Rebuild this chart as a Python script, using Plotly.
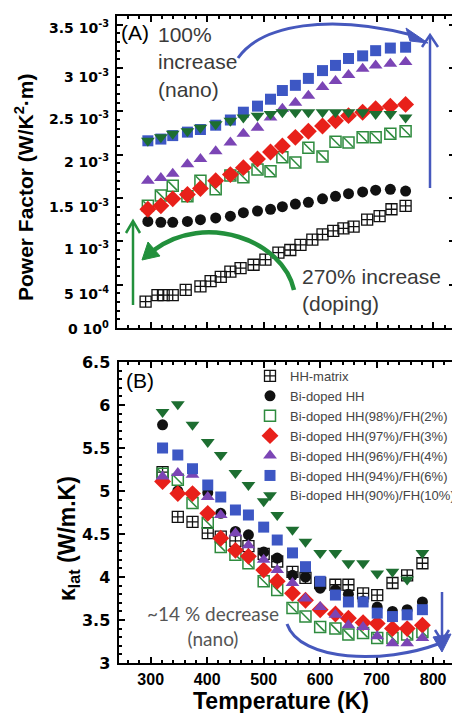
import plotly.graph_objects as go

# the page body has an 8 px margin, so the figure is laid out in
# reference-pixel coordinates shifted by (8, 8)
OX, OY = 8, 8
W, H = 452, 705

# ---------------- data ----------------
series_names = ["HH-matrix", "Bi-doped HH", "Bi-doped HH(98%)/FH(2%)",
                "Bi-doped HH(97%)/FH(3%)", "Bi-doped HH(96%)/FH(4%)",
                "Bi-doped HH(94%)/FH(6%)", "Bi-doped HH(90%)/FH(10%)"]

# Panel A: power factor, in units of 1e-3 W/K^2.m
temp_a_hh = [291, 312, 323, 339, 362, 388, 406, 424, 441, 459, 482, 503, 526, 547,
             565, 586, 604, 623, 641, 659, 683, 705, 726, 751]
pf_hh = [0.305, 0.38, 0.38, 0.38, 0.44, 0.48, 0.54, 0.59, 0.65, 0.69, 0.73, 0.79,
         0.87, 0.90, 0.96, 1.02, 1.08, 1.12, 1.15, 1.17, 1.25, 1.29, 1.37, 1.41]
temp_a = [295, 318, 339, 365, 388, 415, 441, 464, 489, 512, 533, 556, 579, 604,
          627, 650, 675, 698, 724, 751]
pf_bi = [1.23, 1.22, 1.22, 1.23, 1.25, 1.27, 1.29, 1.33, 1.35, 1.37, 1.40, 1.43,
         1.45, 1.49, 1.52, 1.55, 1.57, 1.59, 1.60, 1.58]
pf_98 = [1.41, 1.53, 1.64, 1.52, 1.70, 1.60, 1.76, 1.74, 1.83, 1.81, 1.97, 1.91,
         2.08, 1.98, 2.15, 2.14, 2.20, 2.20, 2.24, 2.27]
pf_97 = [1.37, 1.41, 1.49, 1.54, 1.61, 1.70, 1.77, 1.85, 1.95, 2.03, 2.10, 2.20,
         2.27, 2.33, 2.39, 2.45, 2.49, 2.53, 2.56, 2.58]
pf_96 = [1.70, 1.73, 1.78, 1.89, 1.95, 2.04, 2.14, 2.24, 2.31, 2.43, 2.53, 2.60,
         2.68, 2.78, 2.85, 2.92, 2.99, 3.03, 3.05, 3.07]
pf_94 = [2.16, 2.18, 2.22, 2.26, 2.29, 2.34, 2.40, 2.49, 2.56, 2.64, 2.74, 2.80,
         2.88, 2.97, 3.03, 3.11, 3.14, 3.20, 3.23, 3.24]
pf_90 = [2.16, 2.20, 2.24, 2.27, 2.31, 2.35, 2.39, 2.43, 2.45, 2.47, 2.49, 2.49,
         2.49, 2.49, 2.49, 2.49, 2.49, 2.47, 2.47, 2.43]
pf_ticks = [0, 0.5, 1.0, 1.5, 2.0, 2.5, 3.0, 3.5]
pf_ticktext = ["0 10<sup>0</sup>", "5 10<sup>-4</sup>", "1 10<sup>-3</sup>",
               "1.5 10<sup>-3</sup>", "2 10<sup>-3</sup>", "2.5 10<sup>-3</sup>",
               "3 10<sup>-3</sup>", "3.5 10<sup>-3</sup>"]
# vertical pixel position of each power-factor tick label as printed in the figure
pf_label_y = [327, 292, 247, 205, 160, 117, 75, 26]

# Panel B: lattice thermal conductivity (W/m.K)
temp_b = [321, 348, 374, 401, 424, 450, 473, 500, 524, 551, 574, 600, 627, 650,
          676, 701, 728, 754, 781]
kl_hh = [5.22, 4.70, 4.64, 4.51, 4.47, 4.42, 4.36, 4.27, 4.18, 4.06, 3.99, 3.93,
         3.91, 3.91, 3.81, 3.79, 3.93, 4.02, 4.16]
kl_bi = [5.77, 5.00, 4.97, 4.98, 4.74, 4.53, 4.49, 4.29, 4.22, 4.02, 4.00, 3.87,
         3.85, 3.80, 3.72, 3.65, 3.60, 3.62, 3.71]
kl_98 = [5.20, 5.13, 4.86, 4.63, 4.35, 4.26, 4.16, 3.95, 3.85, 3.64, 3.54, 3.42,
         3.40, 3.33, 3.35, 3.29, 3.29, 3.33, 3.36]
kl_97 = [5.11, 4.97, 4.97, 4.74, 4.45, 4.31, 4.24, 4.08, 3.95, 3.81, 3.73, 3.62,
         3.57, 3.52, 3.47, 3.46, 3.40, 3.40, 3.44]
kl_96 = [5.17, 5.21, 5.19, 4.93, 4.72, 4.51, 4.37, 4.20, 4.08, 3.93, 3.75, 3.65,
         3.56, 3.44, 3.42, 3.31, 3.23, 3.23, 3.29]
kl_94 = [5.50, 5.42, 5.26, 5.07, 4.93, 4.78, 4.72, 4.58, 4.43, 4.28, 4.12, 3.95,
         3.79, 3.71, 3.71, 3.58, 3.54, 3.56, 3.62]
kl_90 = [5.92, 6.01, 5.77, 5.57, 5.42, 5.21, 5.07, 4.88, 4.72, 4.55, 4.41, 4.28,
         4.28, 4.16, 4.16, 4.04, 4.06, 3.97, 4.28]

# ---------------- styles ----------------
BLACK = "#111111"
GREEN_SQ = "#2e8b3e"
RED = "#e8201a"
PURPLE = "#7b45b5"
BLUE = "#3d57c4"
GREEN_TRI = "#1d6e31"
ARROW_BLUE = "#4658bd"
ARROW_GREEN = "#22903c"

styles = [
    dict(symbol="square-cross-open", color=BLACK, size=11, lw=1.3),
    dict(symbol="circle", color=BLACK, size=11, lw=0),
    dict(symbol="square-open", color=GREEN_SQ, size=11, lw=1.5),
    dict(symbol="diamond", color=RED, size=13, lw=0),
    dict(symbol="triangle-up", color=PURPLE, size=12, lw=0),
    dict(symbol="square", color=BLUE, size=11, lw=0),
    dict(symbol="triangle-down", color=GREEN_TRI, size=12, lw=0),
]

fig = go.Figure()

a_sets = [(temp_a_hh, pf_hh), (temp_a, pf_bi), (temp_a, pf_98), (temp_a, pf_97),
          (temp_a, pf_96), (temp_a, pf_94), (temp_a, pf_90)]
b_sets = [kl_hh, kl_bi, kl_98, kl_97, kl_96, kl_94, kl_90]


def add_series(x, y, st, name, xa, ya, show):
    open_sym = st["symbol"].endswith("open")
    fig.add_trace(go.Scatter(
        x=x, y=y, mode="markers", name=name, xaxis=xa, yaxis=ya,
        showlegend=show,
        marker=dict(symbol=st["symbol"], size=st["size"],
                    color=st["color"],
                    line=dict(color=st["color"], width=st["lw"] if open_sym else 0))))
    if name == series_names[2]:
        # diagonal slash inside the open square
        fig.add_trace(go.Scatter(
            x=x, y=y, mode="markers", xaxis=xa, yaxis=ya, showlegend=False,
            hoverinfo="skip",
            marker=dict(symbol="line-nw", size=st["size"] - 2,
                        line=dict(color=st["color"], width=1.5))))


for i, (xs, ys) in enumerate(a_sets):
    add_series(xs, ys, styles[i], series_names[i], "x", "y", False)
for i, ys in enumerate(b_sets):
    add_series(temp_b, ys, styles[i], series_names[i], "x2", "y2", True)


def px(x):
    return (x - OX) / W


def py(y):
    return 1 - (y - OY) / H


axis_common = dict(showline=True, linewidth=2, linecolor="black", mirror="allticks",
                   ticks="inside", ticklen=6, tickwidth=2, tickcolor="black",
                   showgrid=False, zeroline=False, automargin=False)

fig.update_layout(
    width=W, height=H,
    margin=dict(l=0, r=0, t=0, b=0, pad=0, autoexpand=False),
    paper_bgcolor="white", plot_bgcolor="white",
    font=dict(family="Liberation Sans", color="black"),
    xaxis=dict(domain=[px(117), px(455)], range=[240.4, 838.4], anchor="y",
               tick0=300, dtick=100, showticklabels=False,
               minor=dict(ticks="inside", ticklen=3, tickwidth=1.5, dtick=20,
                          tickcolor="black", showgrid=False),
               **axis_common),
    yaxis=dict(domain=[py(328), py(16)], range=[0, 3.6], anchor="x",
               tickvals=pf_ticks, showticklabels=False,
               minor=dict(ticks="inside", ticklen=3, tickwidth=1.5, dtick=0.1,
                          tickcolor="black", showgrid=False),
               **axis_common),
    xaxis2=dict(domain=[px(118.5), px(458)], range=[243, 844], anchor="y2",
                tick0=300, dtick=100,
                tickfont=dict(family="Liberation Sans", size=16, weight="bold"),
                ticklabelstandoff=1,
                minor=dict(ticks="inside", ticklen=3, tickwidth=1.5, dtick=20,
                           tickcolor="black", showgrid=False),
                **axis_common),
    yaxis2=dict(domain=[py(663), py(362)], range=[3, 6.5], anchor="x2",
                tick0=3, dtick=0.5,
                tickfont=dict(family="DejaVu Sans", size=16, weight="bold"),
                ticklabelstandoff=3,
                minor=dict(ticks="inside", ticklen=3, tickwidth=1.5, dtick=0.1,
                           tickcolor="black", showgrid=False),
                **axis_common),
    legend=dict(x=px(250), y=py(361), xanchor="left", yanchor="top",
                bgcolor="rgba(0,0,0,0)", tracegroupgap=0,
                font=dict(family="Liberation Sans", size=13, color="#444444")),
)

ann = []
for txt, yy in zip(pf_ticktext, pf_label_y):
    ann.append(dict(text=txt, x=px(111), y=py(yy + 1), xanchor="right",
                    font=dict(family="DejaVu Sans", size=14, weight="bold")))
ann.append(dict(text="Power Factor (W/K<sup>2</sup>·m)", x=px(24), y=py(187),
                textangle=-90, font=dict(size=21, weight="bold")))
ann.append(dict(text="κ<sub>lat</sub> (W/m.K)", x=px(68), y=py(539),
                textangle=-90, font=dict(size=23, weight="bold")))
ann.append(dict(text="Temperature (K)", x=px(281), y=py(701),
                font=dict(size=23, weight="bold")))
ann.append(dict(text="(A)", x=px(119), y=py(32), xanchor="left",
                font=dict(size=21)))
ann.append(dict(text="(B)", x=px(124), y=py(380), xanchor="left",
                font=dict(size=21)))
ann.append(dict(text="100%<br>increase<br>(nano)", x=px(156), y=py(21),
                xanchor="left", yanchor="top", align="left",
                font=dict(size=21, color="#3a3a3a")))
ann.append(dict(text="270% increase<br>(doping)", x=px(300), y=py(263),
                xanchor="left", yanchor="top", align="left",
                font=dict(size=21, color="#3a3a3a")))
ann.append(dict(text="~14 % decrease<br>(nano)", x=px(213), y=py(600),
                xanchor="center", yanchor="top", align="center",
                font=dict(family="Lato", size=19, color="#555555")))
for a in ann:
    a.update(xref="paper", yref="paper", showarrow=False)
    if "xanchor" not in a:
        a["xanchor"] = "center"
    if "yanchor" not in a:
        a["yanchor"] = "middle"
fig.update_layout(annotations=ann)


def poly(pts, closed=False):
    d = f"M {px(pts[0][0]):.5f},{py(pts[0][1]):.5f}"
    for x, y in pts[1:]:
        d += f" L {px(x):.5f},{py(y):.5f}"
    return d + (" Z" if closed else "")


def curve(p0, c1, c2, p1):
    pts = [p0, c1, c2, p1]
    s = [f"{px(x):.5f},{py(y):.5f}" for x, y in pts]
    return f"M {s[0]} C {s[1]} {s[2]} {s[3]}"


def path_shape(d, color, width, fill=None):
    s = dict(type="path", xref="paper", yref="paper", path=d,
             line=dict(color=color, width=width))
    if fill:
        s["fillcolor"] = fill
    return s


shapes = []
# Panel A: blue curved arrow with a wedge-shaped head
shapes.append(path_shape(curve((238, 58), (262, 24), (330, 14), (412, 35)),
                         ARROW_BLUE, 3))
shapes.append(path_shape(poly([(406, 28), (428, 43), (410, 41)], True),
                         ARROW_BLUE, 1, ARROW_BLUE))
# Panel A: blue vertical arrow
shapes.append(path_shape(poly([(430, 188), (430, 36)]), ARROW_BLUE, 2.5))
shapes.append(path_shape(poly([(422, 47), (430, 35), (438, 47)]), ARROW_BLUE, 2.5))
# Panel A: green vertical arrow
shapes.append(path_shape(poly([(133, 305), (133, 223)]), ARROW_GREEN, 2.5))
shapes.append(path_shape(poly([(126, 233), (133, 221), (140, 233)]),
                         ARROW_GREEN, 2.5))
# Panel A: green curved arrow
shapes.append(path_shape(curve((294, 290), (283, 240), (205, 212), (154, 250)),
                         ARROW_GREEN, 4.5))
shapes.append(path_shape(poly([(142, 260), (148, 242), (160, 256)], True),
                         ARROW_GREEN, 1, ARROW_GREEN))
# Panel B: blue curved arrow
shapes.append(path_shape(curve((287, 624), (300, 662), (385, 664), (438, 644)),
                         ARROW_BLUE, 3))
shapes.append(path_shape(poly([(451, 634), (433, 637), (442, 652)], True),
                         ARROW_BLUE, 1, ARROW_BLUE))
# Panel B: blue vertical arrow
shapes.append(path_shape(poly([(442, 592), (442, 640)]), ARROW_BLUE, 2.5))
shapes.append(path_shape(poly([(435, 630), (442, 641), (449, 630)]),
                         ARROW_BLUE, 2.5))
fig.update_layout(shapes=shapes)

fig.write_html("out.html")
